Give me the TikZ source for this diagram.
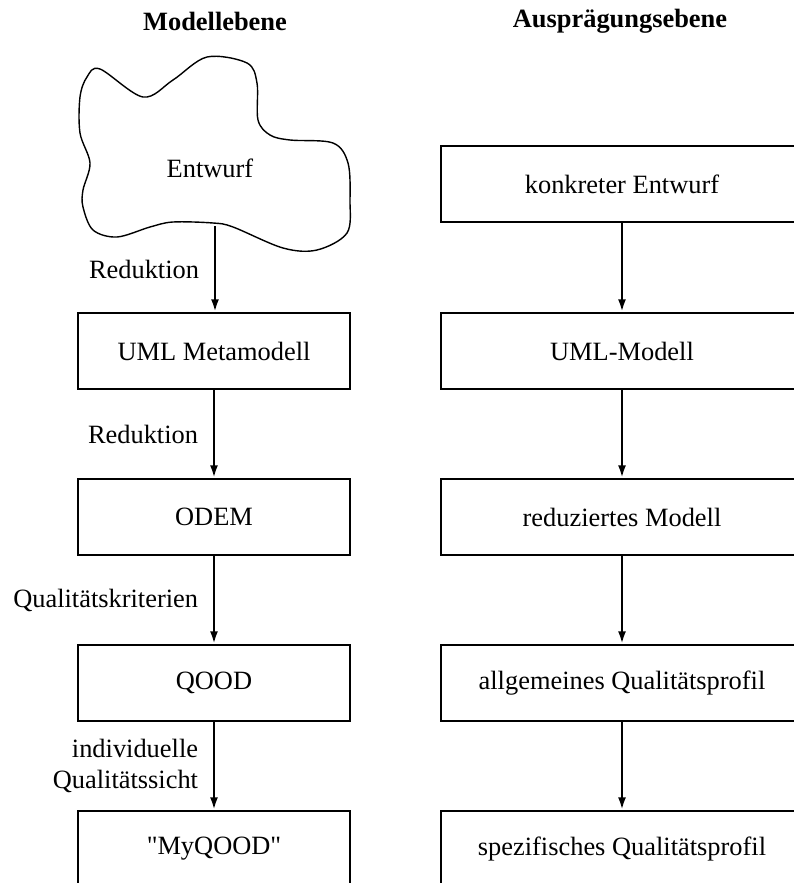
\documentclass[tikz,border=0pt]{standalone}
\usepackage{fontspec}
\setmainfont{Liberation Serif}
\usepackage{tikz}
\usetikzlibrary{arrows.meta,positioning}

\begin{document}
\begin{tikzpicture}[x=0.5pt,y=-0.5pt,
    font=\fontsize{13.2}{15.5}\selectfont,
    ebene/.style={font=\fontsize{13.2}{15.5}\selectfont\bfseries},
    modellbox/.style={draw,line width=0.7pt,minimum width=136pt,minimum height=38pt,inner sep=0pt},
    auspbox/.style={draw,line width=0.7pt,minimum width=181pt,minimum height=38pt,inner sep=0pt},
    pfeil/.style={line width=1.3pt,-{Latex[length=6.5pt,width=4pt]}},
    beschr/.style={left=4pt,align=right}]
      \useasboundingbox (0,0) rectangle (793,883);

      % Ueberschriften
      \node[ebene] (modellebene) at (215,21) {Modellebene};
      \node[ebene] (auspebene) at (620,21) {Ausprägungsebene};

      % Wolke fuer den Entwurf
      \draw[line width=0.7pt] plot[smooth cycle,tension=0.55] coordinates {
        (100,69) (143,97) (173,80) (207,57) (247,63) (257,83) (258,120)
        (270,135) (290,140) (333,143) (348,163) (350,200) (347,233)
        (317,250) (283,248) (233,227) (213,223) (173,222) (150,227)
        (117,237) (93,230) (83,207) (83,190) (90,163) (80,133) (80,97)
        (87,77)};
      \node (entwurf) at (210,168) {Entwurf};
      \coordinate (wolkenfuss) at (215,226);

      % Modellebene
      \node[modellbox] (uml) at (214,351) {UML Metamodell};
      \node[modellbox] (odem) at (214,517) {ODEM};
      \node[modellbox] (qood) at (214,683) {QOOD};
      \node[modellbox] (myqood) at (214,849) {\textquotedbl MyQOOD\textquotedbl};

      % Auspraegungsebene
      \node[auspbox] (konkret) at (622,184) {konkreter Entwurf};
      \node[auspbox] (umlmodell) at (622,351) {UML-Modell};
      \node[auspbox] (reduziert) at (622,517) {reduziertes Modell};
      \node[auspbox] (allgemein) at (622,683) {allgemeines Qualitätsprofil};
      \node[auspbox] (spezifisch) at (622,849) {spezifisches Qualitätsprofil};

      \draw[pfeil] (wolkenfuss) -- (wolkenfuss |- uml.north) node[beschr,midway] {Reduktion};
      \draw[pfeil] (uml) -- (odem) node[beschr,midway] {Reduktion};
      \draw[pfeil] (odem) -- (qood) node[beschr,midway] {Qualitätskriterien};
      \draw[pfeil] (qood) -- (myqood) node[beschr,midway] {individuelle\\Qualitätssicht};

      \draw[pfeil] (konkret) -- (umlmodell);
      \draw[pfeil] (umlmodell) -- (reduziert);
      \draw[pfeil] (reduziert) -- (allgemein);
      \draw[pfeil] (allgemein) -- (spezifisch);
\end{tikzpicture}
\end{document}
